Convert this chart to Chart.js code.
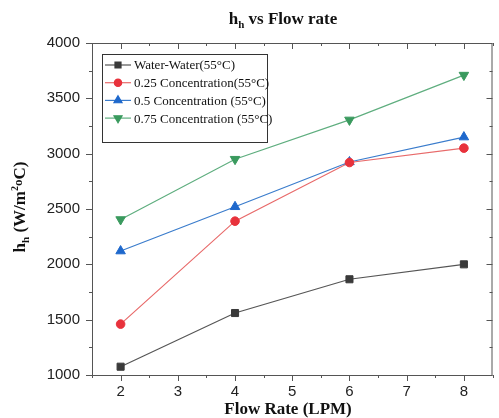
<!DOCTYPE html>
<html>
<head>
<meta charset="utf-8">
<script src="https://cdn.jsdelivr.net/npm/chart.js@4.4.1/dist/chart.umd.min.js"></script>
<style>
  html, body { margin: 0; padding: 0; background: #fff; }
  #wrap { width: 499px; height: 418px; position: relative; }
</style>
</head>
<body>
<div id="wrap"><canvas id="c"></canvas></div>
<script>
// values
const flowRate = [2, 4, 6, 8];
const waterWater = [1075, 1560, 1865, 2000];
const conc025 = [1460, 2390, 2920, 3050];
const conc05 = [2120, 2520, 2925, 3150];
const conc075 = [2405, 2950, 3305, 3710];

const seriesNames = [
    'Water-Water(55°C)',
    '0.25 Concentration(55°C)',
    '0.5 Concentration (55°C)',
    '0.75 Concentration (55°C)'
];

const xMajor = [2, 3, 4, 5, 6, 7, 8];
const xMinor = [1.5, 2.5, 3.5, 4.5, 5.5, 6.5, 7.5, 8.5];
const yMajor = [1000, 1500, 2000, 2500, 3000, 3500, 4000];
const yMinor = [1250, 1750, 2250, 2750, 3250, 3750];

const serif = '"Liberation Serif", "DejaVu Serif", serif';
const sans = '"Liberation Sans", Arial, sans-serif';
const axisColor = '#555';

function pts(ys) {
    return flowRate.map((x, i) => ({ x: x, y: ys[i] }));
}

function series(label, ys, line, fill, style, rot, r) {
    return {
        label: label,
        data: pts(ys),
        borderColor: line,
        borderWidth: 1.2,
        pointStyle: style,
        pointRotation: rot || 0,
        pointRadius: r,
        pointBackgroundColor: fill,
        pointBorderColor: fill,
        pointBorderWidth: 1,
        tension: 0
    };
}

// draw a run of text pieces; each piece: [text, sizeFactor, yShift]
function drawRuns(ctx, runs, size, x, y) {
    const widths = runs.map(r => {
        ctx.font = 'bold ' + Math.round(size * r[1]) + 'px ' + serif;
        return ctx.measureText(r[0]).width;
    });
    let x0 = x - widths.reduce((s, w) => s + w, 0) / 2;
    ctx.textAlign = 'left';
    ctx.textBaseline = 'alphabetic';
    runs.forEach((r, i) => {
        ctx.font = 'bold ' + Math.round(size * r[1]) + 'px ' + serif;
        ctx.fillText(r[0], x0, y + r[2] * size);
        x0 += widths[i];
    });
}

const decor = {
    id: 'decor',
    afterDraw(chart) {
        const { ctx, chartArea: a, scales } = chart;
        const xs = scales.x, ys = scales.y;
        ctx.save();
        // frame
        ctx.strokeStyle = axisColor;
        ctx.lineWidth = 1;
        ctx.strokeRect(a.left + 0.5, a.top + 0.5, a.right - a.left - 1, a.bottom - a.top);

        // ticks: outward on bottom/left, inward on top/right
        ctx.beginPath();
        const tick = (v, len, isX) => {
            if (isX) {
                const px = Math.round(xs.getPixelForValue(v)) + 0.5;
                ctx.moveTo(px, a.bottom); ctx.lineTo(px, a.bottom + len);
                ctx.moveTo(px, a.top); ctx.lineTo(px, a.top + len);
            } else {
                const py = Math.round(ys.getPixelForValue(v)) + 0.5;
                ctx.moveTo(a.left, py); ctx.lineTo(a.left - len, py);
                ctx.moveTo(a.right, py); ctx.lineTo(a.right - len, py);
            }
        };
        xMajor.forEach(v => tick(v, 6, true));
        xMinor.forEach(v => tick(v, 3, true));
        yMajor.forEach(v => tick(v, 6, false));
        yMinor.forEach(v => tick(v, 3, false));
        ctx.stroke();

        ctx.fillStyle = '#111';
        // chart title
        drawRuns(ctx, [['h', 1, 0], ['h', 0.65, 0.25], [' vs Flow rate', 1, 0]], 17, 283, 24);

        // x axis title
        drawRuns(ctx, [['Flow Rate (LPM)', 1, 0]], 17, 288, 414);

        // y axis title, rotated
        ctx.save();
        ctx.translate(25, 207);
        ctx.rotate(-Math.PI / 2);
        drawRuns(ctx, [['h', 1, 0], ['h', 0.65, 0.25], [' (W/m', 1, 0], ['2', 0.6, -0.4],
            ['o', 0.75, -0.2], ['C)', 1, 0]], 17, 0, 0);
        ctx.restore();

        // legend box
        const lx = 102, ly = 54, lw = 165, lh = 88;
        ctx.fillStyle = '#fff';
        ctx.fillRect(lx, ly, lw, lh);
        ctx.strokeStyle = '#333';
        ctx.lineWidth = 1;
        ctx.strokeRect(lx + 0.5, ly + 0.5, lw, lh);
        chart.data.datasets.forEach((ds, i) => {
            const yy = 65 + i * 17.7;
            ctx.strokeStyle = ds.borderColor;
            ctx.lineWidth = 1.2;
            ctx.beginPath();
            ctx.moveTo(105, yy); ctx.lineTo(131, yy);
            ctx.stroke();
            ctx.fillStyle = ds.pointBackgroundColor;
            ctx.strokeStyle = ds.pointBorderColor;
            Chart.helpers.drawPoint(ctx, {
                pointStyle: ds.pointStyle,
                rotation: ds.pointRotation,
                radius: ds.pointRadius * 0.85,
                borderWidth: 1
            }, 118, yy);
            ctx.fillStyle = '#111';
            ctx.font = '13px ' + serif;
            ctx.textAlign = 'left';
            ctx.textBaseline = 'middle';
            ctx.fillText(ds.label, 134, yy + 1);
        });
        ctx.restore();
    }
};

new Chart(document.getElementById('c'), {
    type: 'line',
    data: {
        datasets: [
            series(seriesNames[0], waterWater, '#555555', '#3a3a3a', 'rect', 0, 5),
            series(seriesNames[1], conc025, '#e86a6a', '#e8323c', 'circle', 0, 4.3),
            series(seriesNames[2], conc05, '#3a7ccc', '#1e68cc', 'triangle', 0, 5.5),
            series(seriesNames[3], conc075, '#5fae7f', '#3a9a5e', 'triangle', 180, 5.5)
        ]
    },
    options: {
        responsive: true,
        maintainAspectRatio: false,
        animation: false,
        layout: { padding: { left: 0, right: 1, top: 43, bottom: 0 } },
        plugins: {
            legend: { display: false },
            title: { display: false },
            tooltip: { enabled: false }
        },
        scales: {
            x: {
                type: 'linear',
                min: 1.5,
                max: 8.5,
                afterFit(s) { s.height = 43; },
                afterBuildTicks(s) { s.ticks = xMajor.map(v => ({ value: v })); },
                grid: { display: false, drawTicks: false },
                border: { display: false },
                ticks: {
                    color: '#222',
                    padding: 8,
                    maxRotation: 0,
                    font: { family: sans, size: 15 },
                    callback: v => String(v)
                }
            },
            y: {
                min: 1000,
                max: 4000,
                afterFit(s) { s.width = 92; },
                afterBuildTicks(s) { s.ticks = yMajor.map(v => ({ value: v })); },
                grid: { display: false, drawTicks: false },
                border: { display: false },
                ticks: {
                    color: '#222',
                    padding: 12,
                    font: { family: sans, size: 15 },
                    callback: v => String(v)
                }
            }
        }
    },
    plugins: [decor]
});
</script>
</body>
</html>
